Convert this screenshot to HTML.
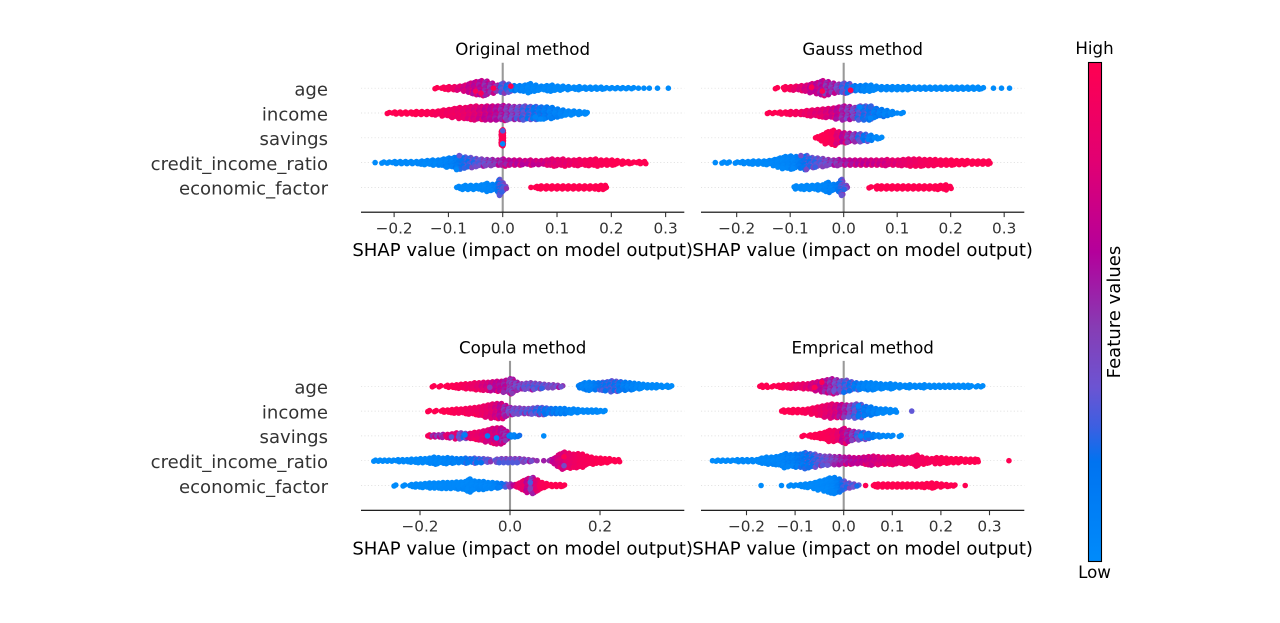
<!DOCTYPE html>
<html lang="en">
<head>
<meta charset="utf-8">
<title>SHAP summary plots by method</title>
<style>
html,body{margin:0;padding:0;background:#fff;}
svg{display:block;font-family:"DejaVu Sans","Liberation Sans",sans-serif;}
.ytl{font-size:18.06px;fill:#333;text-anchor:end;}
.xtl{font-size:15.28px;fill:#333;text-anchor:middle;}
.xlab{font-size:18.06px;fill:#000;text-anchor:middle;}
.ttl{font-size:16.67px;fill:#000;text-anchor:middle;}
.cbl{font-size:16.67px;fill:#000;text-anchor:middle;}
</style>
</head>
<body>
<svg id="fig" width="1280" height="623" viewBox="0 0 1280 623" xmlns="http://www.w3.org/2000/svg">
  <defs>
    <linearGradient id="redBlue" x1="0" y1="1" x2="0" y2="0">
      <stop offset="0" stop-color="rgb(0,139,251)"/>
      <stop offset="0.2" stop-color="rgb(0,115,240)"/>
      <stop offset="0.27" stop-color="rgb(60,95,225)"/>
      <stop offset="0.35" stop-color="rgb(108,84,210)"/>
      <stop offset="0.47" stop-color="rgb(135,60,180)"/>
      <stop offset="0.62" stop-color="rgb(180,0,155)"/>
      <stop offset="0.8" stop-color="rgb(225,0,115)"/>
      <stop offset="1" stop-color="rgb(255,0,81)"/>
    </linearGradient>
  </defs>
  <g id="panels"></g>
  <g>
    <rect x="1088.5" y="62.5" width="13" height="499" fill="url(#redBlue)" stroke="#000" stroke-width="1.1"/>
    <text class="cbl" x="1094.5" y="54">High</text>
    <text class="cbl" x="1094.5" y="578">Low</text>
    <text class="xlab" x="0" y="0" transform="translate(1120 312) rotate(-90)">Feature values</text>
  </g>
</svg>
<script>
// Feature labels
const featureNames = ["age","income","savings","credit_income_ratio","economic_factor"];
const xAxisLabel = "SHAP value (impact on model output)";

// ---------- Original method ----------
const origAgeShap = [-.122,-.11,-.10,-.09,-.08,-.07,-.06,-.05,-.04,-.03,-.02,-.01,0,.01,.02,.03,.04,.05,.06,.07,.08,.09,.10,.11,.12,.13,.14,.15,.16,.17,.18,.19,.20,.21,.22,.23,.24,.25,.26,.27,.285,.305];
const origAgeCount = [2,3,4,4,5,7,11,14,16,15,11,7,11,9,6,6,7,10,7,5,6,7,5,5,4,3,4,3,3,3,3,2,2,2,2,2,2,1,1,1,1,1];
const origAgeFeature = [1,.98,.95,.9,.85,.8,.75,.72,.68,.62,.6,.55,.38,.3,.15,.1,.08,.06,.05,.05,.04,.04,.03,.03,.03,.02,.02,.02,.02,.01,.01,.01,.01,.01,.01,0,0,0,0,0,0,0];
const origIncomeShap = [-.21,-.20,-.19,-.18,-.17,-.16,-.15,-.14,-.13,-.12,-.11,-.10,-.09,-.08,-.07,-.06,-.05,-.04,-.03,-.02,-.01,0,.01,.02,.03,.04,.05,.06,.07,.08,.09,.10,.11,.12,.13,.14,.15,.155];
const origIncomeCount = [2,3,3,3,3,4,4,4,4,5,7,8,10,12,12,14,15,14,15,15,15,16,15,14,14,15,14,14,13,13,12,9,7,5,5,4,3,2];
const origIncomeFeature = [1,1,1,1,1,1,.99,.98,.97,.96,.95,.93,.92,.9,.88,.85,.83,.8,.75,.72,.68,.62,.55,.5,.45,.38,.32,.25,.2,.17,.12,.1,.08,.05,.04,.03,.02,.01];
const origSavingsShap = [-.002,0,.001];
const origSavingsCount = [15,17,15];
const origSavingsFeature = [.97,.98,.97];
const origCreditShap = [-.235,-.22,-.21,-.20,-.19,-.18,-.17,-.16,-.15,-.14,-.13,-.12,-.11,-.10,-.09,-.08,-.07,-.06,-.05,-.04,-.03,-.02,-.01,0,.01,.02,.03,.04,.05,.06,.07,.08,.09,.10,.11,.12,.13,.14,.15,.16,.17,.18,.19,.20,.21,.22,.23,.24,.25,.26];
const origCreditCount = [1,2,2,3,3,3,3,3,4,5,6,6,8,10,11,14,12,11,9,8,7,7,6,8,6,6,6,5,6,5,5,6,8,7,8,6,6,7,6,7,8,6,6,6,5,4,3,2,3,3];
const origCreditFeature = [0,.01,.01,.02,.02,.02,.03,.03,.04,.04,.05,.06,.08,.1,.13,.2,.28,.33,.36,.42,.48,.52,.58,.62,.66,.7,.72,.73,.75,.76,.78,.8,.83,.85,.87,.88,.9,.92,.94,.95,.96,.97,.98,.99,1,1,1,1,1,1];
const origEconShap = [-.082,-.07,-.06,-.05,-.04,-.03,-.02,-.01,-.006,0,.005,.052,.062,.07,.08,.09,.10,.11,.12,.13,.14,.15,.16,.17,.18,.188];
const origEconCount = [3,5,5,5,6,9,7,9,17,10,3,1,3,4,4,4,4,4,4,4,4,4,4,4,5,5];
const origEconFeature = [.03,.03,.03,.03,.04,.05,.08,.15,.32,.36,.38,1,1,1,1,1,1,1,1,1,1,1,1,1,1,1];
const origAccentShap = [-.05,-.017,.015,-.04,0,0,.06,.07,-.085,-.08];
const origAccentRow = [0,0,0,0,2,2,1,1,3,3];
const origAccentLevel = [3,0,-2,5,-7,6,4,6,7,-7];
const origAccentFeature = [.95,.98,.98,.95,.3,.02,.05,.03,.03,.35];

// ---------- Gauss method ----------
const gaussAgeShap = [-.125,-.11,-.10,-.09,-.08,-.07,-.06,-.05,-.04,-.03,-.02,-.01,0,.01,.02,.03,.04,.05,.06,.07,.08,.09,.10,.11,.12,.13,.14,.15,.16,.17,.18,.19,.20,.21,.22,.23,.24,.25,.26,.28,.295,.31];
const gaussAgeCount = [2,4,4,5,6,7,10,12,16,14,11,9,11,10,6,6,7,7,5,4,4,4,4,4,4,3,3,3,3,3,3,3,3,3,3,3,3,3,2,1,1,1];
const gaussAgeFeature = [1,.98,.95,.9,.85,.8,.75,.72,.68,.6,.58,.5,.38,.3,.17,.12,.08,.06,.05,.05,.04,.04,.03,.03,.03,.02,.02,.02,.02,.01,.01,.01,.01,.01,.01,0,0,0,0,0,0,0];
const gaussIncomeShap = [-.14,-.13,-.12,-.11,-.10,-.09,-.08,-.07,-.06,-.05,-.04,-.03,-.02,-.01,0,.01,.02,.03,.04,.05,.06,.07,.08,.09,.10,.11];
const gaussIncomeCount = [2,2,3,3,4,4,4,6,7,8,9,10,11,13,15,14,12,15,15,15,10,8,6,4,1,2];
const gaussIncomeFeature = [1,1,.99,.98,.96,.94,.92,.9,.88,.85,.84,.82,.78,.72,.62,.55,.48,.38,.3,.25,.18,.14,.1,.06,.03,.02];
const gaussSavingsShap = [-.05,-.04,-.03,-.02,-.01,0,.01,.02,.03,.04,.05,.06,.07];
const gaussSavingsCount = [3,7,13,16,13,11,10,9,9,8,6,3,2];
const gaussSavingsFeature = [1,1,.99,.97,.85,.72,.6,.5,.36,.25,.1,.03,.01];
const gaussCreditShap = [-.24,-.225,-.215,-.20,-.19,-.18,-.17,-.16,-.15,-.14,-.13,-.12,-.11,-.10,-.09,-.08,-.07,-.06,-.05,-.04,-.03,-.02,-.01,0,.01,.02,.03,.04,.05,.06,.07,.08,.09,.10,.11,.12,.13,.14,.15,.16,.17,.18,.19,.20,.21,.22,.23,.24,.25,.26,.27];
const gaussCreditCount = [1,2,2,2,3,3,4,4,4,5,7,10,13,14,13,12,15,11,10,9,7,6,7,6,6,6,6,6,6,6,6,7,6,6,7,8,8,8,7,7,7,6,6,6,5,5,5,4,4,4,4];
const gaussCreditFeature = [0,.01,.01,.01,.02,.02,.02,.03,.03,.04,.05,.05,.06,.08,.1,.18,.28,.33,.37,.42,.48,.53,.58,.63,.66,.7,.72,.74,.75,.77,.78,.8,.84,.85,.87,.89,.9,.92,.94,.95,.96,.97,.98,.99,1,1,1,1,1,1,1];
const gaussEconShap = [-.09,-.08,-.07,-.06,-.05,-.04,-.03,-.02,-.01,-.004,.004,.05,.062,.07,.08,.09,.10,.11,.12,.13,.14,.15,.16,.17,.18,.19,.198];
const gaussEconCount = [4,4,5,5,6,6,11,7,9,17,5,2,4,4,4,4,4,4,4,4,4,4,4,4,5,6,3];
const gaussEconFeature = [.03,.03,.03,.03,.04,.05,.08,.1,.2,.34,.38,1,1,1,1,1,1,1,1,1,1,1,1,1,1,1,1];
const gaussAccentShap = [.013,-.04,-.06,.05,.05,.03,-.07,-.08];
const gaussAccentRow = [0,0,0,1,1,1,3,3];
const gaussAccentLevel = [2,3,-1,-6,5,-6,7,-7];
const gaussAccentFeature = [.98,.98,.98,.25,.05,.05,.4,.4];

// ---------- Copula method ----------
const copulaAgeShap = [-.17,-.155,-.14,-.13,-.12,-.11,-.10,-.09,-.08,-.07,-.06,-.05,-.04,-.03,-.02,-.01,0,.006,.015,.025,.035,.045,.055,.065,.075,.085,.095,.105,.116,.155,.165,.175,.185,.195,.205,.215,.225,.235,.245,.255,.265,.275,.285,.295,.305,.315,.325,.335,.348,.358];
const copulaAgeCount = [2,2,3,3,4,5,6,6,8,8,9,9,10,11,11,13,16,15,9,6,7,8,7,6,5,4,4,3,2,4,8,9,8,8,9,10,12,11,10,9,8,7,6,5,4,4,4,3,3,2];
const copulaAgeFeature = [1,1,1,.99,.98,.97,.95,.93,.9,.87,.82,.8,.76,.72,.7,.66,.58,.55,.5,.47,.45,.44,.42,.42,.4,.42,.44,.45,.45,.15,.1,.08,.12,.2,.28,.3,.32,.3,.22,.15,.12,.08,.05,.04,.03,.02,.02,.01,0,0];
const copulaIncomeShap = [-.18,-.165,-.15,-.14,-.13,-.12,-.11,-.10,-.09,-.08,-.07,-.06,-.05,-.04,-.03,-.02,-.01,0,.01,.02,.03,.04,.05,.06,.07,.08,.09,.10,.11,.12,.13,.14,.15,.16,.17,.18,.19,.20,.21];
const copulaIncomeCount = [2,2,3,3,4,5,5,6,7,8,9,11,13,15,16,16,12,8,7,7,6,6,7,8,8,7,6,6,6,6,4,5,4,3,3,3,3,2,2];
const copulaIncomeFeature = [1,1,1,1,.99,.98,.97,.95,.94,.93,.92,.9,.88,.85,.8,.72,.6,.5,.46,.46,.44,.42,.4,.35,.3,.25,.2,.17,.12,.1,.07,.05,.04,.03,.03,.02,.02,.01,.01];
const copulaSavingsShap = [-.18,-.17,-.16,-.15,-.14,-.13,-.12,-.11,-.10,-.09,-.08,-.07,-.06,-.05,-.04,-.03,-.02,-.015,-.008,0,.008,.02,.075];
const copulaSavingsCount = [3,3,3,4,4,5,7,7,6,6,8,9,11,13,16,17,17,14,10,3,3,2,1];
const copulaSavingsFeature = [.95,.6,.55,.55,.85,.8,.85,.45,.35,.8,.9,.88,.85,.83,.8,.78,.72,.65,.6,.1,.05,.2,0];
const copulaCreditShap = [-.30,-.29,-.28,-.27,-.26,-.25,-.24,-.23,-.22,-.21,-.20,-.19,-.18,-.17,-.16,-.15,-.14,-.13,-.12,-.11,-.10,-.09,-.08,-.07,-.06,-.05,-.045,-.03,-.02,-.01,0,.01,.02,.03,.04,.05,.06,.075,.09,.10,.11,.12,.13,.14,.15,.16,.17,.18,.19,.20,.21,.22,.23,.24];
const copulaCreditCount = [2,2,2,2,2,3,3,3,4,4,5,5,6,8,7,6,7,6,5,5,6,5,6,5,5,4,3,4,5,5,5,5,5,4,3,2,1,1,3,7,14,18,16,14,15,14,10,8,6,6,5,5,3,3];
const copulaCreditFeature = [0,0,0,.01,.01,.02,.02,.02,.03,.03,.03,.04,.04,.05,.05,.06,.08,.1,.13,.17,.2,.25,.28,.3,.33,.36,.38,.4,.42,.44,.44,.45,.45,.45,.45,.47,.5,.55,.6,.75,.82,.82,.88,.9,.93,.95,.96,.97,.98,.99,1,1,1,1];
const copulaEconShap = [-.255,-.235,-.22,-.21,-.20,-.19,-.18,-.17,-.16,-.15,-.14,-.13,-.12,-.11,-.10,-.09,-.08,-.07,-.06,-.05,-.04,-.03,-.02,-.01,0,.01,.02,.03,.04,.05,.06,.07,.08,.09,.10,.11,.12];
const copulaEconCount = [2,2,3,4,4,5,6,6,6,7,7,7,8,8,9,14,10,9,9,7,7,6,5,4,4,3,6,11,15,17,12,7,5,3,3,3,2];
const copulaEconFeature = [0,0,.01,.01,.01,.01,.02,.02,.02,.02,.03,.03,.03,.03,.04,.04,.04,.05,.05,.05,.06,.1,.18,.3,.5,.72,.9,.88,.75,.55,.85,.96,.98,1,1,1,1];
const copulaAccentShap = [-.05,-.03,-.1,-.13,-.045,.045,.045,.12,.12];
const copulaAccentRow = [2,2,2,2,0,4,4,3,3];
const copulaAccentLevel = [0,2,-1,1,1,-3,3,5,-4];
const copulaAccentFeature = [.1,.03,.1,.3,.45,.3,.45,.4,.98];

// ---------- Emprical method ----------
const empAgeShap = [-.17,-.16,-.145,-.135,-.125,-.115,-.105,-.095,-.085,-.075,-.065,-.055,-.045,-.035,-.025,-.015,-.005,.005,.015,.025,.035,.045,.055,.065,.075,.085,.095,.105,.115,.125,.135,.145,.155,.165,.175,.185,.195,.205,.215,.225,.235,.245,.255,.262,.275,.285];
const empAgeCount = [3,3,2,3,4,4,5,5,6,6,8,10,12,14,16,14,12,13,10,8,7,8,8,7,6,5,6,5,4,3,4,3,3,4,3,3,3,3,3,3,3,3,3,2,2,2];
const empAgeFeature = [1,1,1,.99,.98,.96,.94,.9,.88,.85,.8,.78,.72,.66,.6,.5,.42,.36,.3,.2,.12,.08,.06,.05,.05,.04,.04,.03,.03,.03,.02,.02,.02,.02,.01,.01,.01,.01,.01,.01,0,0,0,0,0,0];
const empIncomeShap = [-.125,-.115,-.105,-.095,-.085,-.075,-.065,-.055,-.045,-.035,-.025,-.015,-.005,.005,.015,.025,.035,.045,.055,.065,.075,.085,.095,.105,.14];
const empIncomeCount = [3,3,4,4,4,5,7,9,11,13,15,14,14,13,13,15,14,10,9,6,5,5,4,3,1];
const empIncomeFeature = [1,1,1,.99,.98,.97,.95,.93,.9,.87,.84,.8,.7,.62,.5,.4,.28,.2,.13,.1,.07,.05,.03,.02,.33];
const empSavingsShap = [-.083,-.07,-.06,-.05,-.04,-.03,-.02,-.01,0,.01,.02,.03,.04,.05,.06,.07,.08,.09,.10,.117];
const empSavingsCount = [2,3,4,6,8,12,12,11,16,12,10,9,8,6,4,3,2,2,2,2];
const empSavingsFeature = [1,1,1,.99,.98,.97,.93,.88,.76,.65,.55,.38,.28,.2,.14,.08,.05,.03,.02,0];
const empCreditShap = [-.27,-.26,-.25,-.24,-.23,-.22,-.21,-.20,-.19,-.18,-.17,-.16,-.15,-.14,-.13,-.12,-.11,-.10,-.09,-.08,-.07,-.06,-.05,-.04,-.03,-.02,-.01,0,.01,.02,.03,.04,.05,.06,.07,.08,.09,.10,.11,.12,.13,.14,.15,.16,.17,.18,.19,.20,.21,.22,.23,.24,.25,.26,.27,.275,.34];
const empCreditCount = [1,2,2,2,2,3,3,3,3,3,6,8,8,9,11,15,13,14,14,17,15,14,11,10,10,9,9,8,8,7,7,8,9,10,9,8,8,9,7,8,7,8,12,8,6,5,7,7,6,5,5,5,4,4,4,3,1];
const empCreditFeature = [0,0,0,.01,.01,.01,.02,.02,.02,.03,.04,.04,.05,.06,.07,.1,.12,.14,.2,.24,.28,.32,.38,.42,.46,.52,.57,.62,.66,.7,.72,.74,.76,.78,.8,.82,.84,.86,.87,.89,.9,.92,.93,.94,.95,.96,.97,.98,.99,1,1,1,1,1,1,1,1];
const empEconShap = [-.17,-.128,-.11,-.10,-.09,-.08,-.07,-.06,-.05,-.04,-.03,-.02,-.01,0,.01,.02,.03,.045,.063,.07,.08,.09,.10,.11,.12,.13,.14,.15,.16,.17,.18,.19,.20,.21,.22,.228,.25];
const empEconCount = [1,1,2,2,3,4,5,7,10,12,16,17,14,10,6,4,2,1,3,4,4,4,4,4,4,4,4,4,4,5,6,5,4,3,2,2,1];
const empEconFeature = [0,0,.01,.01,.01,.02,.02,.03,.03,.04,.05,.07,.15,.33,.36,.36,.3,1,1,1,1,1,1,1,1,1,1,1,1,1,1,1,1,1,1,1,1];
const empAccentShap = [-.045,-.06,-.02,.03,.03,.035,.05,-.025];
const empAccentRow = [0,0,0,1,1,2,2,4];
const empAccentLevel = [-4,1,4,-5,5,0,-1,5];
const empAccentFeature = [.98,.98,.35,.05,.15,.03,.1,.05];

// Axis ticks
const ticksFine = [-.2,-.1,0,.1,.2,.3];
const labelsFine = ["\u22120.2","\u22120.1","0.0","0.1","0.2","0.3"];
const ticksCoarse = [-.2,0,.2];
const labelsCoarse = ["\u22120.2","0.0","0.2"];

// Panel definitions
const panels = [
  {key:"original", title:"Original method", domain:[-.261,.3344], left:361, right:684.3, base:212.2, titleY:55, tickY:233.6, labelY:256, yLabels:true, ticks:ticksFine, tickLabels:labelsFine,
   shap:[origAgeShap,origIncomeShap,origSavingsShap,origCreditShap,origEconShap],
   count:[origAgeCount,origIncomeCount,origSavingsCount,origCreditCount,origEconCount],
   feature:[origAgeFeature,origIncomeFeature,origSavingsFeature,origCreditFeature,origEconFeature],
   accent:[origAccentShap,origAccentRow,origAccentLevel,origAccentFeature]},
  {key:"gauss", title:"Gauss method", domain:[-.2667,.3376], left:701, right:1024.3, base:212.2, titleY:55, tickY:233.6, labelY:256, yLabels:false, ticks:ticksFine, tickLabels:labelsFine,
   shap:[gaussAgeShap,gaussIncomeShap,gaussSavingsShap,gaussCreditShap,gaussEconShap],
   count:[gaussAgeCount,gaussIncomeCount,gaussSavingsCount,gaussCreditCount,gaussEconCount],
   feature:[gaussAgeFeature,gaussIncomeFeature,gaussSavingsFeature,gaussCreditFeature,gaussEconFeature],
   accent:[gaussAccentShap,gaussAccentRow,gaussAccentLevel,gaussAccentFeature]},
  {key:"copula", title:"Copula method", domain:[-.3311,.3873], left:361, right:684.3, base:510.3, titleY:353.3, tickY:531.6, labelY:554.5, yLabels:true, ticks:ticksCoarse, tickLabels:labelsCoarse,
   shap:[copulaAgeShap,copulaIncomeShap,copulaSavingsShap,copulaCreditShap,copulaEconShap],
   count:[copulaAgeCount,copulaIncomeCount,copulaSavingsCount,copulaCreditCount,copulaEconCount],
   feature:[copulaAgeFeature,copulaIncomeFeature,copulaSavingsFeature,copulaCreditFeature,copulaEconFeature],
   accent:[copulaAccentShap,copulaAccentRow,copulaAccentLevel,copulaAccentFeature]},
  {key:"emprical", title:"Emprical method", domain:[-.2936,.3716], left:701, right:1024.3, base:510.3, titleY:353.3, tickY:531.6, labelY:554.5, yLabels:false, ticks:ticksFine, tickLabels:labelsFine,
   shap:[empAgeShap,empIncomeShap,empSavingsShap,empCreditShap,empEconShap],
   count:[empAgeCount,empIncomeCount,empSavingsCount,empCreditCount,empEconCount],
   feature:[empAgeFeature,empIncomeFeature,empSavingsFeature,empCreditFeature,empEconFeature],
   accent:[empAccentShap,empAccentRow,empAccentLevel,empAccentFeature]}
];

const SVG_NS = "http://www.w3.org/2000/svg";
const ROW_STEP = 24.8, AXIS_HEIGHT = 149.4, DOT_R = 2.8, LEVEL_GAP = 1.0, GOLDEN = 0.618034;
const colorStops = [[0,0,139,251],[.2,0,115,240],[.27,60,95,225],[.35,108,84,210],[.47,135,60,180],[.62,180,0,155],[.8,225,0,115],[1,255,0,81]];

function featureColor(v){
  const t = Math.max(0, Math.min(1, v));
  for (let i = 1; i < colorStops.length; i++){
    if (t <= colorStops[i][0]){
      const a = colorStops[i-1], b = colorStops[i], f = (t-a[0])/(b[0]-a[0]);
      return "rgb(" + [1,2,3].map(k => Math.round(a[k]+(b[k]-a[k])*f)).join(",") + ")";
    }
  }
  return "rgb(255,0,81)";
}
function make(tag, attrs, parent){
  const el = document.createElementNS(SVG_NS, tag);
  for (const k in attrs) el.setAttribute(k, attrs[k]);
  parent.appendChild(el);
  return el;
}

const root = document.getElementById("panels");
panels.forEach(function(p){
  const xScale = v => p.left + (v - p.domain[0]) / (p.domain[1] - p.domain[0]) * (p.right - p.left);
  const rowY = i => p.base - (featureNames.length - i) * ROW_STEP;

  const g = make("g", {}, root);
  
  

  // row guide lines
  featureNames.forEach(function(name, i){
    const guide = make("line", {x1:p.left, x2:p.right, y1:rowY(i), y2:rowY(i), stroke:"#d8d8d8", "stroke-width":0.7, "stroke-dasharray":"1.1 2.3"}, g);
    
    
  });

  // zero line
  const zero = make("line", {x1:xScale(0), x2:xScale(0), y1:p.base-AXIS_HEIGHT, y2:p.base, stroke:"#999999", "stroke-width":2.08}, g);
  
  

  // beeswarm rows: each bin is a pile of points; points spread across the bin width
  featureNames.forEach(function(name, r){
    const rowG = make("g", {}, g);
    
    
    const xs = p.shap[r], ns = p.count[r], fs = p.feature[r];
    xs.forEach(function(v, i){
      const n = ns[i];
      const gapL = i > 0 ? Math.abs(v - xs[i-1]) : .01;
      const gapR = i < xs.length-1 ? Math.abs(xs[i+1] - v) : .01;
      const binW = Math.min(.01, gapL, gapR);
      const f = fs[i];
      const mix = 1.4 * f * (1 - f);
      for (let k = 0; k < n; k++){
        const phase = n > 1 ? ((k + 1) * GOLDEN) % 1 - .5 : 0;
        const dot = make("circle", {cx:xScale(v + phase * binW).toFixed(2), cy:(rowY(r)+(k-(n-1)/2)*LEVEL_GAP).toFixed(2), r:DOT_R, fill:featureColor(f + phase * mix)}, rowG);
        
        
      }
    });
  });

  // individually visible points that contrast with their neighbours
  p.accent[0].forEach(function(v, i){
    const dot = make("circle", {cx:xScale(v).toFixed(2), cy:(rowY(p.accent[1][i])+p.accent[2][i]*LEVEL_GAP).toFixed(2), r:DOT_R, fill:featureColor(p.accent[3][i])}, g);
    
    
  });

  // x axis
  const spine = make("line", {x1:p.left, x2:p.right, y1:p.base, y2:p.base, stroke:"#000", "stroke-width":1.1}, g);
  
  
  p.ticks.forEach(function(t, i){
    const mark = make("line", {x1:xScale(t), x2:xScale(t), y1:p.base, y2:p.base+4.9, stroke:"#333", "stroke-width":1.1}, g);
    
    
    const lbl = make("text", {class:"xtl", x:xScale(t), y:p.tickY}, g);
    
    
    lbl.textContent = p.tickLabels[i];
  });

  const xl = make("text", {class:"xlab", x:(p.left+p.right)/2, y:p.labelY}, g);
  
  
  xl.textContent = xAxisLabel;

  const title = make("text", {class:"ttl", x:(p.left+p.right)/2, y:p.titleY}, g);
  
  
  title.textContent = p.title;

  if (p.yLabels){
    featureNames.forEach(function(name, i){
      const yl = make("text", {class:"ytl", x:328, y:rowY(i)+7.3}, g);
      
      
      yl.textContent = name;
    });
  }
});
</script>
</body>
</html>
